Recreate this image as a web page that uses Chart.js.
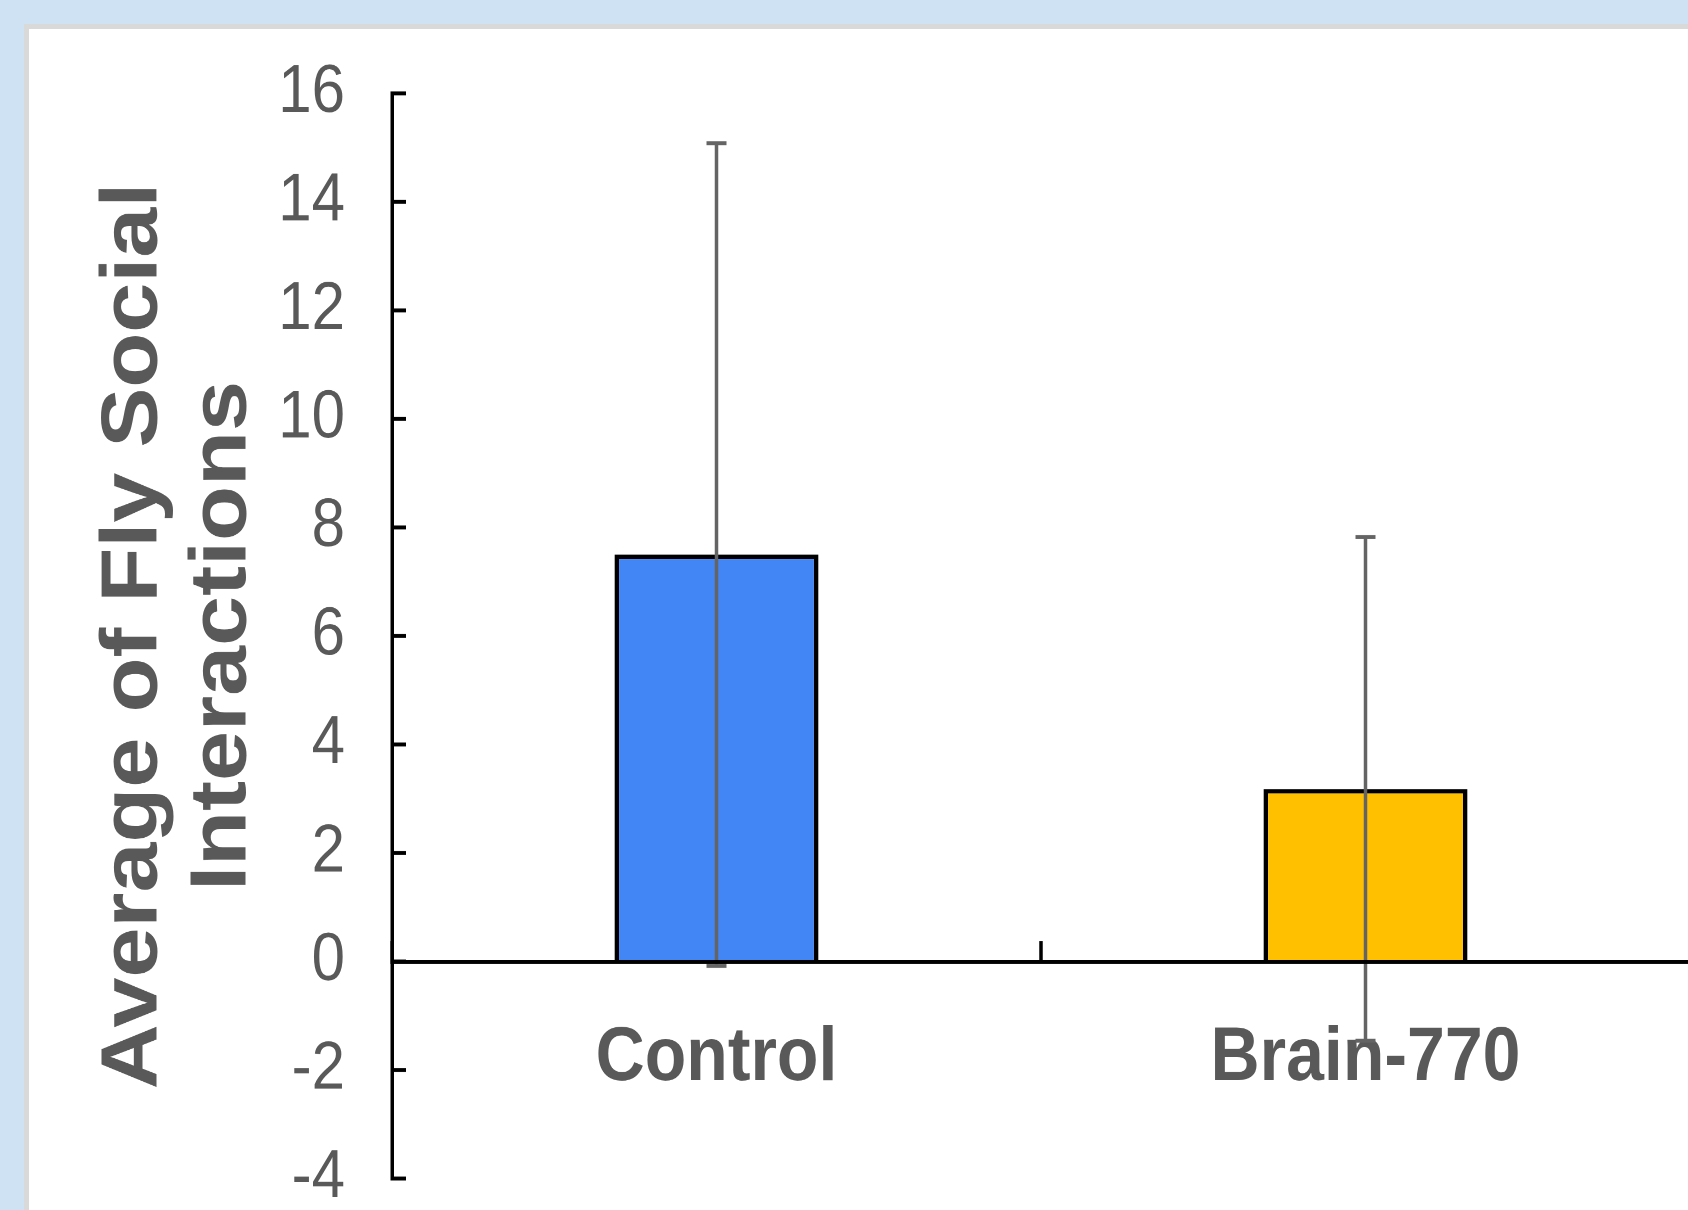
<!DOCTYPE html>
<html>
<head>
<meta charset="utf-8">
<script src="https://cdn.jsdelivr.net/npm/chart.js@4.4.1/dist/chart.umd.min.js"></script>
<style>
  html, body { margin: 0; padding: 0; width: 1688px; height: 1210px; overflow: hidden; background: #CFE2F3; }
  #panel { position: absolute; left: 24px; top: 24px; width: 1664px; height: 1186px; background: #ffffff;
           border-left: 5px solid #D9D9D9; border-top: 5px solid #D9D9D9; box-sizing: border-box; }
  #wrap { position: absolute; left: 0; top: 0; width: 1692px; height: 1076px;
          transform-origin: 0 0; transform: scaleY(1.12454); }
</style>
</head>
<body>
<div id="panel"></div>
<div id="wrap"><canvas id="c" width="1692" height="1076"></canvas></div>
<script>
// ---- data ----
const categories = ['Control', 'Brain-770'];
const means = [7.5, 3.18];
const errors = [7.58, 4.64];
const barColors = ['#4285F4', '#FFC000'];
const yTitle = ['Average of Fly Social', 'Interactions'];
const yMin = -4;
const yMax = 16;
const yStep = 2;

const FONT = "'Liberation Sans', Arial, Helvetica, sans-serif";
const TEXT = '#595959';

const errorBars = {
  id: 'errorBars',
  afterDatasetsDraw(chart) {
    const { ctx } = chart;
    const yScale = chart.scales.y;
    const meta = chart.getDatasetMeta(0);
    ctx.save();
    ctx.strokeStyle = '#646464';
    meta.data.forEach((bar, i) => {
      const x = bar.x;
      const top = yScale.getPixelForValue(means[i] + errors[i]);
      const bot = yScale.getPixelForValue(means[i] - errors[i]);
      ctx.lineWidth = 3.5;
      ctx.beginPath();
      ctx.moveTo(x, top);
      ctx.lineTo(x, bot);
      ctx.stroke();
      ctx.lineWidth = 3.5;
      ctx.beginPath();
      ctx.moveTo(x - 10, top); ctx.lineTo(x + 10, top);
      ctx.moveTo(x - 10, bot); ctx.lineTo(x + 10, bot);
      ctx.stroke();
    });
    ctx.restore();
  }
};

new Chart(document.getElementById('c'), {
  type: 'bar',
  data: {
    labels: categories,
    datasets: [{
      data: means,
      backgroundColor: barColors,
      borderColor: '#000000',
      borderWidth: { top: 4, left: 4.5, right: 4.5, bottom: 0 },
      borderSkipped: 'start',
      categoryPercentage: 1.0,
      barPercentage: 0.314
    }]
  },
  options: {
    responsive: false,
    devicePixelRatio: 2,
    animation: false,
    layout: { padding: { top: 83, bottom: 28, left: 0, right: 2 } },
    plugins: { legend: { display: false }, tooltip: { enabled: false } },
    scales: {
      x: {
        type: 'category',
        position: { y: 0 },
        offset: true,
        grid: { display: true, drawOnChartArea: false, drawTicks: true, tickLength: -20,
                tickWidth: 3.5, tickColor: '#000000', offset: true, z: 1 },
        border: { display: true, color: '#000000', width: 3.5, z: 1 },
        ticks: { color: TEXT, padding: 66, font: { family: FONT, size: 68, weight: 'bold', lineHeight: 1.2 } }
      },
      y: {
        type: 'linear',
        min: yMin,
        max: yMax,
        afterFit(scale) {
          scale.width = 392;
          scale.paddingTop = 0;
          scale.paddingBottom = 0;
        },
        grid: { display: true, drawOnChartArea: false, drawTicks: true, tickLength: -14,
                tickWidth: 3.5, tickColor: '#000000' },
        border: { display: true, color: '#000000', width: 3.5 },
        ticks: { stepSize: yStep, color: TEXT, padding: 61,
                 font: { family: FONT, size: 60, lineHeight: 0.8 } },
        title: {
          display: true,
          text: yTitle,
          color: TEXT,
          font: { family: FONT, size: 80, weight: 'bold', lineHeight: 1.1125 },
          padding: { top: 90, bottom: 0 }
        }
      }
    }
  },
  plugins: [errorBars]
});
</script>
</body>
</html>
